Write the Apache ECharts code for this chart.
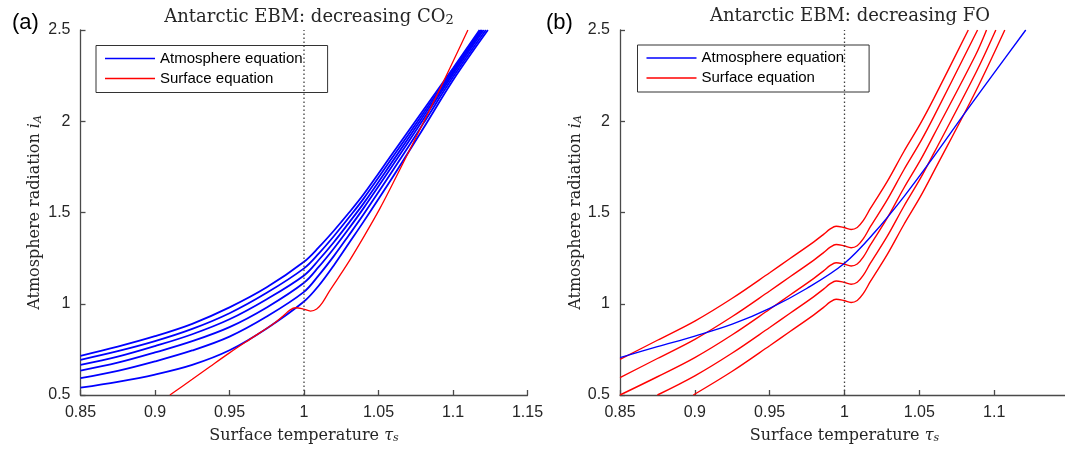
<!DOCTYPE html>
<html>
<head>
<meta charset="utf-8">
<script src="https://cdn.jsdelivr.net/npm/echarts@6/dist/echarts.min.js"></script>
<style>
  html, body { margin: 0; padding: 0; background: #ffffff; }
  #chart { width: 1065px; height: 449px; }
</style>
</head>
<body>
<div id="chart"></div>
<script>
// ---- Axis settings ----
const tauMin = 0.85, tauMax = 1.15, tauStep = 0.05;
const radMin = 0.5, radMax = 2.5, radStep = 0.5;
const iceEdgeTau = 1.0;

// ---- (a) decreasing CO2: atmosphere equation, one curve per CO2 level [tau_s, i_A] ----
const atmCO2_1 = [[0.85,0.715],[0.875,0.765],[0.90,0.822],[0.925,0.890],[0.95,0.980],[0.975,1.090],[1.0,1.230],[1.01,1.310],[1.02,1.400],[1.03,1.497],[1.04,1.600],[1.06,1.830],[1.08,2.060],[1.10,2.290],[1.1178,2.5]];
const atmCO2_2 = [[0.85,0.693],[0.875,0.740],[0.90,0.795],[0.925,0.862],[0.95,0.948],[0.975,1.060],[1.0,1.194],[1.01,1.276],[1.02,1.370],[1.03,1.471],[1.04,1.576],[1.06,1.809],[1.08,2.044],[1.10,2.280],[1.1187,2.5]];
const atmCO2_3 = [[0.85,0.665],[0.875,0.710],[0.90,0.768],[0.925,0.833],[0.95,0.915],[0.975,1.025],[1.0,1.155],[1.01,1.241],[1.02,1.337],[1.03,1.442],[1.04,1.550],[1.06,1.787],[1.08,2.027],[1.10,2.269],[1.1196,2.5]];
const atmCO2_4 = [[0.85,0.634],[0.875,0.677],[0.90,0.733],[0.925,0.795],[0.95,0.872],[0.975,0.980],[1.0,1.115],[1.01,1.203],[1.02,1.303],[1.03,1.411],[1.04,1.524],[1.06,1.764],[1.08,2.009],[1.10,2.257],[1.1206,2.5]];
const atmCO2_5 = [[0.85,0.592],[0.875,0.632],[0.90,0.684],[0.925,0.744],[0.95,0.820],[0.975,0.930],[1.0,1.065],[1.01,1.157],[1.02,1.261],[1.03,1.374],[1.04,1.490],[1.06,1.735],[1.08,1.987],[1.10,2.242],[1.1220,2.5]];
const atmCO2_6 = [[0.85,0.540],[0.875,0.572],[0.90,0.612],[0.925,0.665],[0.95,0.745],[0.975,0.865],[1.0,1.012],[1.01,1.100],[1.02,1.210],[1.03,1.330],[1.04,1.450],[1.06,1.700],[1.08,1.960],[1.10,2.225],[1.1234,2.5]];
// surface equation
const surfCO2 = [[0.91,0.500],[0.925,0.586],[0.9368,0.655],[0.95,0.731],[0.9636,0.805],[0.9793,0.889],[0.986,0.933],[0.9905,0.965],[0.9944,0.978],[0.9995,0.971],[1.0044,0.960],[1.0085,0.971],[1.0125,1.008],[1.0173,1.072],[1.0285,1.210],[1.0396,1.360],[1.0508,1.520],[1.0597,1.660],[1.0876,2.116],[1.11,2.5]];

// ---- (b) decreasing FO: one atmosphere curve, surface curves per FO level ----
const atmFO = [[0.85,0.705],[0.875,0.765],[0.90,0.823],[0.925,0.888],[0.95,0.975],[0.975,1.085],[1.0,1.222],[1.02,1.390],[1.04,1.590],[1.06,1.810],[1.08,2.040],[1.10,2.265],[1.1211,2.5]];
const surfFO_1 = [[0.85,0.695],[0.875,0.800],[0.90,0.905],[0.925,1.030],[0.95,1.170],[0.9636,1.248],[0.9793,1.338],[0.986,1.380],[0.9905,1.410],[0.9944,1.425],[0.9995,1.418],[1.0044,1.407],[1.0085,1.418],[1.0125,1.455],[1.0173,1.522],[1.0285,1.669],[1.0396,1.833],[1.0508,1.988],[1.0597,2.125],[1.0827,2.5]];
const surfFO_2 = [[0.85,0.595],[0.875,0.700],[0.90,0.805],[0.925,0.930],[0.95,1.070],[0.9636,1.148],[0.9793,1.238],[0.986,1.280],[0.9905,1.310],[0.9944,1.325],[0.9995,1.318],[1.0044,1.307],[1.0085,1.318],[1.0125,1.355],[1.0173,1.422],[1.0285,1.569],[1.0396,1.733],[1.0508,1.888],[1.0597,2.025],[1.0889,2.5]];
const surfFO_3 = [[0.85,0.500],[0.875,0.600],[0.90,0.705],[0.925,0.830],[0.95,0.970],[0.9636,1.048],[0.9793,1.138],[0.986,1.180],[0.9905,1.210],[0.9944,1.225],[0.9995,1.218],[1.0044,1.207],[1.0085,1.218],[1.0125,1.255],[1.0173,1.322],[1.0285,1.469],[1.0396,1.633],[1.0508,1.788],[1.0597,1.925],[1.0876,2.363],[1.0949,2.5]];
const surfFO_4 = [[0.875,0.500],[0.90,0.605],[0.925,0.730],[0.95,0.870],[0.9636,0.948],[0.9793,1.038],[0.986,1.080],[0.9905,1.110],[0.9944,1.125],[0.9995,1.118],[1.0044,1.107],[1.0085,1.118],[1.0125,1.155],[1.0173,1.222],[1.0285,1.369],[1.0396,1.533],[1.0508,1.688],[1.0597,1.825],[1.0876,2.263],[1.1011,2.5]];
const surfFO_5 = [[0.899,0.500],[0.925,0.630],[0.95,0.770],[0.9636,0.848],[0.9793,0.938],[0.986,0.980],[0.9905,1.010],[0.9944,1.025],[0.9995,1.018],[1.0044,1.007],[1.0085,1.018],[1.0125,1.055],[1.0173,1.122],[1.0285,1.269],[1.0396,1.433],[1.0508,1.588],[1.0597,1.725],[1.0876,2.163],[1.1071,2.5]];

const panelTitles = ['Antarctic EBM: decreasing CO{sub|2}', 'Antarctic EBM: decreasing FO'];
const panelTags = ['(a)', '(b)'];
const atmName = 'Atmosphere equation';
const surfName = 'Surface equation';

// ---- Style ----
const BLUE = '#0000ff', RED = '#ff0000';
const AXIS_COLOR = '#4a4a4a', TEXT_COLOR = '#262626';
const SANS = 'Liberation Sans, Arial, sans-serif';
const SERIF = 'DejaVu Serif, serif';

const chart = echarts.init(document.getElementById('chart'), null, { renderer: 'canvas' });

const clean = v => String(parseFloat(v.toFixed(2)));

const nameRich = {
  m: { fontFamily: SERIF, fontSize: 16, fontStyle: 'italic', color: TEXT_COLOR },
  sub: { fontFamily: SERIF, fontSize: 11, fontStyle: 'italic', color: TEXT_COLOR, verticalAlign: 'bottom', padding: [6, 0, 0, 0] }
};

function xAxisFor(gridIndex, showMax) {
  return {
    type: 'value', gridIndex, min: tauMin, max: tauMax, interval: tauStep,
    name: 'Surface temperature {m|τ}{sub|s}',
    nameLocation: 'middle', nameGap: 32,
    nameTextStyle: { fontFamily: SERIF, fontSize: 16, color: TEXT_COLOR, rich: nameRich },
    axisLine: { show: true, onZero: false, lineStyle: { color: AXIS_COLOR, width: 1.3 } },
    axisTick: { show: true, inside: true, length: 5, lineStyle: { color: AXIS_COLOR, width: 1.3 } },
    axisLabel: { formatter: clean, color: TEXT_COLOR, fontFamily: SANS, fontSize: 16, margin: 10, showMaxLabel: showMax },
    splitLine: { show: false }
  };
}

function yAxisFor(gridIndex, gap) {
  return {
    type: 'value', gridIndex, min: radMin, max: radMax, interval: radStep,
    name: 'Atmosphere radiation {m|i}{sub|A}',
    nameLocation: 'middle', nameGap: gap, nameRotate: 90,
    nameTextStyle: { fontFamily: SERIF, fontSize: 16, color: TEXT_COLOR, rich: nameRich },
    axisLine: { show: true, onZero: false, lineStyle: { color: AXIS_COLOR, width: 1.3 } },
    axisTick: { show: true, inside: true, length: 5, lineStyle: { color: AXIS_COLOR, width: 1.3 } },
    axisLabel: { formatter: clean, color: TEXT_COLOR, fontFamily: SANS, fontSize: 16, margin: 10 },
    splitLine: { show: false }
  };
}

function curve(name, data, color, width, gridIndex) {
  return {
    type: 'line', name, data, xAxisIndex: gridIndex, yAxisIndex: gridIndex,
    showSymbol: false, symbol: 'none', smooth: 0.35,
    lineStyle: { color, width }, itemStyle: { color }, silent: true, animation: false, z: 3
  };
}

function iceEdge(gridIndex) {
  return {
    type: 'line', name: 'ice edge', data: [[iceEdgeTau, radMin], [iceEdgeTau, radMax]],
    xAxisIndex: gridIndex, yAxisIndex: gridIndex, symbol: 'none', silent: true, animation: false,
    lineStyle: { color: '#404040', width: 1.3, type: [1.4, 2.6] }, z: 4
  };
}

function legendAt(left, top) {
  return {
    left, top, orient: 'vertical', data: [atmName, surfName],
    icon: 'rect', itemWidth: 50, itemHeight: 1.6, itemGap: 4,
    padding: [5, 25, 6, 9],
    borderColor: '#333333', borderWidth: 1, backgroundColor: '#ffffff',
    selectedMode: false,
    textStyle: { fontFamily: SANS, fontSize: 15, color: '#000000', lineHeight: 16 }
  };
}

const subRich = { sub: { fontFamily: SERIF, fontSize: 13, color: TEXT_COLOR, verticalAlign: 'bottom', padding: [7, 0, 0, 0] } };

const option = {
  backgroundColor: '#ffffff',
  animation: false,
  title: [
    { text: panelTitles[0], left: 304, top: 2, textAlign: 'center',
      textStyle: { fontFamily: SERIF, fontSize: 18, fontWeight: 'normal', color: TEXT_COLOR, rich: subRich } },
    { text: panelTitles[1], left: 845, top: 2, textAlign: 'center',
      textStyle: { fontFamily: SERIF, fontSize: 18, fontWeight: 'normal', color: TEXT_COLOR, rich: subRich } },
    { text: panelTags[0], left: 7, top: 7, textStyle: { fontFamily: SANS, fontSize: 22, fontWeight: 'normal', color: '#000000' } },
    { text: panelTags[1], left: 541, top: 7, textStyle: { fontFamily: SANS, fontSize: 22, fontWeight: 'normal', color: '#000000' } }
  ],
  legend: [legendAt(96, 45.5), legendAt(637.5, 45)],
  // the right panel's axis runs on past the canvas edge, so bounds are not clamped
  grid: [
    { left: 80.5, top: 30, width: 447, height: 365, outerBoundsMode: 'none' },
    { left: 620, top: 30, width: 449, height: 365, outerBoundsMode: 'none' }
  ],
  xAxis: [xAxisFor(0, true), xAxisFor(1, false)],
  yAxis: [yAxisFor(0, 37), yAxisFor(1, 33)],
  series: [
    iceEdge(0),
    curve(atmName, atmCO2_1, BLUE, 1.8, 0),
    curve(atmName, atmCO2_2, BLUE, 1.8, 0),
    curve(atmName, atmCO2_3, BLUE, 1.8, 0),
    curve(atmName, atmCO2_4, BLUE, 1.8, 0),
    curve(atmName, atmCO2_5, BLUE, 1.8, 0),
    curve(atmName, atmCO2_6, BLUE, 1.8, 0),
    curve(surfName, surfCO2, RED, 1.3, 0),
    iceEdge(1),
    curve(surfName, surfFO_1, RED, 1.4, 1),
    curve(surfName, surfFO_2, RED, 1.4, 1),
    curve(surfName, surfFO_3, RED, 1.4, 1),
    curve(surfName, surfFO_4, RED, 1.4, 1),
    curve(surfName, surfFO_5, RED, 1.4, 1),
    curve(atmName, atmFO, BLUE, 1.4, 1)
  ]
};

chart.setOption(option);
</script>
</body>
</html>
